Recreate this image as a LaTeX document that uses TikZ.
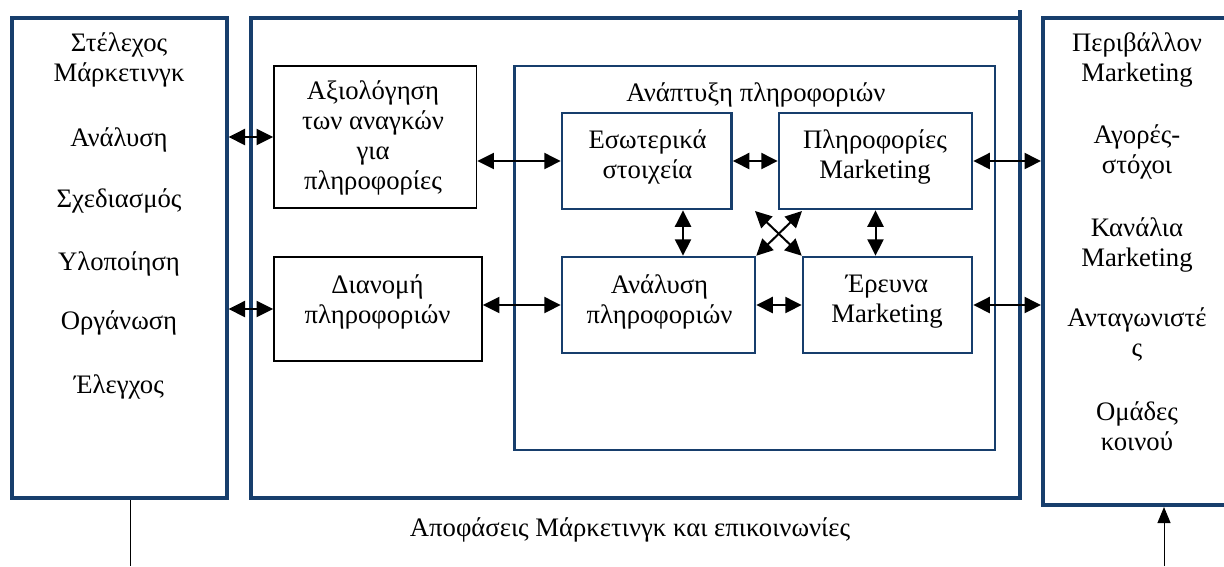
\documentclass[tikz,border=0pt]{standalone}
\usepackage{fontspec}
\setmainfont{Liberation Serif}
\usetikzlibrary{arrows.meta,calc}
\definecolor{navy}{HTML}{173E6C}
\begin{document}
\begin{tikzpicture}[x=1pt,y=-1pt,
  outerbox/.style={draw=navy,line width=4pt,inner sep=0pt,rectangle},
  bluebox/.style={draw=navy,line width=2.5pt,inner sep=0pt,rectangle},
  blackbox/.style={draw=black,line width=1.8pt,inner sep=0pt,rectangle},
  txt/.style={font=\fontsize{26.7}{30}\selectfont,align=center,inner sep=0pt,
    execute at begin node=\strut,execute at end node=\strut},
  link/.style={line width=2pt,
    {Triangle[length=16.5pt,width=16pt]}-{Triangle[length=16.5pt,width=16pt]}},
  thinline/.style={line width=1pt,draw=black},
]
\clip (0,0) rectangle (1224,566);

% outer frames
\node[outerbox,minimum width=215pt,minimum height=480pt] (left) at (119,258) {};
\node[outerbox,minimum width=768.5pt,minimum height=480pt] (main) at (635.25,258) {};
\node[outerbox,minimum width=217pt,minimum height=487pt] (right) at (1151.5,261.5) {};
\draw[navy,line width=4pt] ([xshift=-2pt]main.north east) -- ++(0,-6);

% information development block
\node[bluebox,minimum width=480.5pt,minimum height=384pt] (develop) at (754.75,258) {};
\node[blackbox,minimum width=202.5pt,minimum height=142pt] (need) at (375.25,137) {};
\node[blackbox,minimum width=208pt,minimum height=104pt] (distr) at (378,309) {};
\node[bluebox,minimum width=169.5pt,minimum height=96pt] (internal) at (646.75,161) {};
\node[bluebox,minimum width=193pt,minimum height=96pt] (mktinfo) at (875.5,161) {};
\node[bluebox,minimum width=193pt,minimum height=96pt] (analysis) at (658.5,305) {};
\node[bluebox,minimum width=169pt,minimum height=96pt] (research) at (887.5,305) {};

% texts of the manager column
\node[txt] (t-man) at (119,62) {Στέλεχος\\Μάρκετινγκ};
\node[txt] (t-ana) at (119,140) {Ανάλυση};
\node[txt] (t-pla) at (119,201) {Σχεδιασμός};
\node[txt] (t-imp) at (119,264) {Υλοποίηση};
\node[txt] (t-org) at (119,323) {Οργάνωση};
\node[txt] (t-con) at (119,387) {Έλεγχος};

% texts of the environment column
\node[txt] (t-env) at (1137,62) {Περιβάλλον\\Marketing};
\node[txt] (t-tgt) at (1137,154) {Αγορές-\\στόχοι};
\node[txt] (t-chn) at (1137,246.5) {Κανάλια\\Marketing};
\node[txt] (t-cmp) at (1137,336.5) {Ανταγωνιστέ\\ς};
\node[txt] (t-pub) at (1137,431) {Ομάδες\\κοινού};

% texts of the inner boxes
\node[txt] (t-need) at (373,139.5) {Αξιολόγηση\\των αναγκών\\για\\πληροφορίες};
\node[txt] (t-distr) at (377.5,303.5) {Διανομή\\πληροφοριών};
\node[txt] (t-dev) at (756,95.7) {Ανάπτυξη πληροφοριών};
\node[txt] (t-int) at (647.5,158.5) {Εσωτερικά\\στοιχεία};
\node[txt] (t-mkt) at (875,158.5) {Πληροφορίες\\Marketing};
\node[txt] (t-anl) at (659.5,303.5) {Ανάλυση\\πληροφοριών};
\node[txt] (t-res) at (887,303.5) {Έρευνα\\Marketing};
\node[txt] (t-dec) at (630,530) {Αποφάσεις Μάρκετινγκ και επικοινωνίες};

% helper coordinates
\coordinate (vx1) at (683,0);
\coordinate (vx2) at (875.5,0);
\coordinate (xa) at (755,211);
\coordinate (xb) at (802,211);
\coordinate (decL) at (130,566);
\coordinate (decR) at (1164,566);

% horizontal links
\draw[link] (left.east |- need.west) -- (need.west);
\draw[link] (left.east |- distr.west) -- (distr.west);
\draw[link] (need.east |- internal.west) -- (internal.west);
\draw[link] (analysis.west -| distr.east) -- (analysis.west);
\draw[link] (internal.east) -- (mktinfo.west);
\draw[link] (analysis.east) -- (research.west);
\draw[link] (mktinfo.east) -- (mktinfo.east -| right.west);
\draw[link] (research.east) -- (research.east -| right.west);

% vertical and crossing links
\draw[link] (internal.south -| vx1) -- (analysis.north -| vx1);
\draw[link] (mktinfo.south -| vx2) -- (research.north -| vx2);
\draw[link] (xb) -- (analysis.north east);
\draw[link] (xa) -- (research.north west);

% decision flow at the bottom
\draw[thinline] (decL |- left.south) -- (decL);
\draw[thinline,-{Triangle[length=16pt,width=13pt]}] (decR) -- (decR |- right.south);
\end{tikzpicture}
\end{document}
